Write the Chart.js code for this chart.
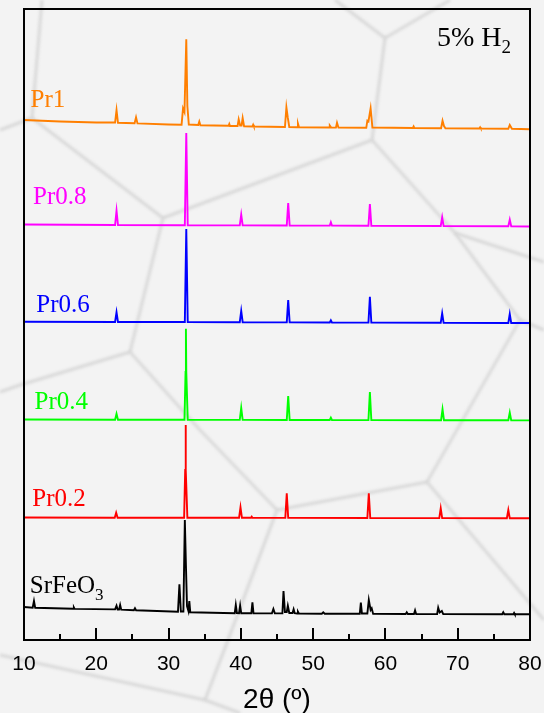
<!DOCTYPE html>
<html>
<head>
<meta charset="utf-8">
<script src="https://cdn.jsdelivr.net/npm/chart.js@4.4.1/dist/chart.umd.min.js"></script>
<style>
  html, body { margin: 0; padding: 0; background: #f3f3f3; }
  #wrap { width: 544px; height: 713px; position: relative; }
</style>
</head>
<body>
<div id="wrap"><canvas id="xrdChart" width="544" height="713"></canvas></div>
<script>
// Series names and colours, top to bottom
const seriesNames = ["Pr1", "Pr0.8", "Pr0.6", "Pr0.4", "Pr0.2", "SrFeO3"];
const seriesColors = ["#ff7f00", "#ff00ff", "#0000ff", "#00ff00", "#ff0000", "#000000"];
// vertical stacking offset of each pattern (a.u.)
const seriesOffsets = [510, 414, 317, 219, 121, 24];

const xTicks = [10, 20, 30, 40, 50, 60, 70, 80];

// Pr1
const pr1Angle = [10, 15, 20, 22.6, 22.8, 23.0, 25.3, 25.5, 25.7, 30, 31.8, 32.0, 32.2, 32.45, 32.6, 32.8,
  34.1, 34.25, 34.4, 38.3, 38.4, 38.5, 39.55, 39.7, 39.9, 40.1, 40.25, 40.45, 41.6, 41.7, 41.8,
  46.1, 46.3, 46.5, 46.7, 47.8, 47.9, 48.05, 52.2, 52.3, 52.5, 53.15, 53.3, 53.5,
  57.35, 57.5, 57.65, 57.95, 58.2, 63.8, 63.9, 64.0, 67.7, 67.9, 68.1, 68.3,
  73.0, 73.1, 73.2, 77.0, 77.2, 77.5, 80];
const pr1Counts = [10, 8.5, 7.5, 7.5, 20, 7.2, 6.8, 12.7, 6.6, 5.5, 5.3, 21.7, 18, 90.7, 24, 5.5,
  5, 8.5, 4.8, 4.2, 6, 4, 4, 10.7, 4.5, 4.5, 12, 3.7, 3.5, 5.2, 3.5,
  3, 22.7, 12, 3, 2.8, 6.5, 2.8, 2.5, 4.5, 2.5, 2.4, 7.3, 2.4,
  2.2, 9.3, 8.5, 21.7, 2.5, 2, 3.5, 2, 1.8, 9.3, 4, 1.7,
  1.5, 2.7, 1.5, 1.2, 5, 1.2, 0.7];

// Pr0.8
const pr08Angle = [10, 22.6, 22.8, 23.0, 32.25, 32.45, 32.65, 39.85, 40.05, 40.25, 46.35, 46.55, 46.75,
  52.3, 52.45, 52.6, 57.65, 57.85, 58.05, 67.65, 67.85, 68.05, 77.0, 77.2, 77.4, 80];
const pr08Counts = [1.5, 1, 15.3, 1, 0.8, 93, 0.8, 0.6, 11.3, 0.6, 0.5, 23, 0.5,
  0.4, 3.7, 0.4, 0.3, 22, 0.3, 0, 8.7, 0, -0.3, 6.3, -0.3, -0.5];

// Pr0.6
const pr06Angle = [10, 22.6, 22.8, 23.0, 32.25, 32.45, 32.65, 39.85, 40.05, 40.25, 46.35, 46.55, 46.75,
  52.3, 52.45, 52.6, 57.65, 57.85, 58.05, 67.65, 67.85, 68.05, 77.0, 77.2, 77.4, 80];
const pr06Counts = [1.2, 1, 10.7, 1, 1, 94, 1, 0.8, 12, 0.8, 0.6, 23, 0.6,
  0.5, 2.7, 0.5, 0.4, 26.3, 0.4, 0.2, 9.7, 0.2, 0, 9, 0, 0];

// Pr0.4
const pr04Angle = [10, 22.6, 22.8, 23.0, 32.2, 32.35, 32.4, 32.45, 32.65, 39.85, 40.05, 40.25, 46.35, 46.55, 46.75,
  52.3, 52.45, 52.6, 57.65, 57.85, 58.05, 67.7, 67.9, 68.1, 77.0, 77.2, 77.4, 80];
const pr04Counts = [1.5, 1.3, 7.3, 1.3, 1.2, 49, 92.3, 49, 1.2, 1.1, 13, 1.1, 1, 25, 1,
  1, 3.3, 1, 0.9, 29, 0.9, 0.8, 11.7, 0.8, 0.7, 8.3, 0.7, 0.6];

// Pr0.2
const pr02Angle = [10, 22.55, 22.75, 22.95, 32.15, 32.3, 32.35, 32.4, 32.6, 39.75, 39.95, 40.15,
  41.4, 41.5, 41.6, 46.15, 46.35, 46.55, 57.5, 57.7, 57.9, 67.45, 67.65, 67.85, 76.8, 77.0, 77.2, 80];
const pr02Counts = [1.5, 1.3, 6.3, 1.3, 1.3, 49, 94, 49, 1.3, 1.2, 11.7, 1.2,
  1.2, 2.3, 1.2, 1.1, 25.7, 1.1, 1, 25.7, 1, 0.9, 10.7, 0.9, 0.8, 9, 0.8, 0.7];

// SrFeO3
const sfoAngle = [10, 11.2, 11.38, 11.55, 16.8, 16.9, 17.0, 22.6, 22.8, 22.95, 23.15, 23.3, 23.45,
  25.2, 25.35, 25.5, 31.3, 31.5, 31.7, 32.05, 32.25, 32.4, 32.55, 32.75, 32.87, 33.0,
  39.15, 39.3, 39.45, 39.75, 39.9, 40.05, 41.45, 41.6, 41.75, 44.3, 44.5, 44.7,
  45.75, 45.9, 46.1, 46.35, 46.5, 46.7, 47.15, 47.3, 47.45, 47.8, 47.9, 48.05,
  51.2, 51.4, 51.6, 56.45, 56.6, 56.75, 57.5, 57.7, 57.95, 58.1, 58.3,
  62.8, 62.95, 63.1, 63.95, 64.1, 64.25, 67.15, 67.3, 67.5, 67.8, 68.0,
  76.15, 76.3, 76.45, 77.7, 77.8, 77.9, 80];
const sfoCounts = [9, 8.3, 15, 8.2, 7.2, 8.5, 7.1, 6.6, 10.3, 6.5, 6.4, 11, 6.3,
  5.8, 7.7, 5.7, 4.3, 31.7, 4.5, 4.5, 96, 51, 10, 5, 15, 3.8,
  2.8, 11, 3, 2.8, 10.3, 2.8, 2.7, 13.7, 2.7, 2.6, 7, 2.6,
  2.6, 25, 4, 4, 10.3, 3, 3, 6.7, 2.8, 2.5, 4.3, 2.4,
  2.3, 3.7, 2.3, 2.2, 13.3, 2.5, 2.5, 16, 6, 7.7, 2.1,
  2, 3.7, 2, 2, 5.7, 2, 1.9, 8.3, 3.5, 5, 1.9,
  1.7, 3.7, 1.7, 1.7, 3, 1.7, 1.7];

const seriesAngles = [pr1Angle, pr08Angle, pr06Angle, pr04Angle, pr02Angle, sfoAngle];
const seriesCounts = [pr1Counts, pr08Counts, pr06Counts, pr04Counts, pr02Counts, sfoCounts];

const serif = "'Liberation Serif', 'Times New Roman', serif";
const sans = "'Liberation Sans', Arial, sans-serif";

// text labels (data coordinates: 2theta, stacked intensity)
const labelSpots = [
  { x: 10.9, dy: 22.7 },
  { x: 11.25, dy: 22 },
  { x: 11.7, dy: 11.3 },
  { x: 11.45, dy: 11.7 },
  { x: 11.15, dy: 13 },
  { x: 10.8, dy: 23.3 },
];

// light grey cell pattern behind the figure
const cellEdges = [
  [[335, 0], [385, 38], [450, 0]],
  [[385, 38], [372, 140], [455, 233], [520, 320], [544, 330]],
  [[455, 233], [544, 262]],
  [[372, 140], [163, 218], [32, 118], [42, 0]],
  [[32, 118], [0, 130]],
  [[163, 218], [130, 352], [20, 385], [0, 392]],
  [[130, 352], [200, 430], [277, 510], [427, 482], [520, 320]],
  [[427, 482], [544, 620]],
  [[277, 510], [228, 640], [205, 700], [0, 655]],
  [[205, 700], [240, 713]],
];

const backgroundPlugin = {
  id: "cellBackground",
  beforeDraw(chart) {
    const ctx = chart.ctx;
    ctx.save();
    ctx.fillStyle = "#f3f3f3";
    ctx.fillRect(0, 0, chart.width, chart.height);
    ctx.filter = "blur(1.5px)";
    ctx.strokeStyle = "#d3d3d3";
    ctx.lineWidth = 2.5;
    ctx.lineJoin = "round";
    cellEdges.forEach((path) => {
      ctx.beginPath();
      path.forEach(([px, py], i) => (i ? ctx.lineTo(px, py) : ctx.moveTo(px, py)));
      ctx.stroke();
    });
    ctx.restore();
  },
};

const framePlugin = {
  id: "frameAndLabels",
  afterDraw(chart) {
    const ctx = chart.ctx;
    const area = chart.chartArea;
    const xScale = chart.scales.x;
    const yScale = chart.scales.y;
    ctx.save();
    ctx.strokeStyle = "#000";
    ctx.lineWidth = 2;
    ctx.strokeRect(area.left, area.top, area.right - area.left, area.bottom - area.top);

    // inward ticks
    for (let v = 15; v < 80; v += 5) {
      const px = Math.round(xScale.getPixelForValue(v));
      const len = v % 10 === 0 ? 12 : 6;
      ctx.beginPath();
      ctx.moveTo(px, area.bottom);
      ctx.lineTo(px, area.bottom - len);
      ctx.stroke();
    }

    // pattern labels
    ctx.textBaseline = "alphabetic";
    ctx.textAlign = "left";
    seriesNames.forEach((name, i) => {
      const px = xScale.getPixelForValue(labelSpots[i].x);
      const py = yScale.getPixelForValue(seriesOffsets[i] + labelSpots[i].dy);
      ctx.fillStyle = seriesColors[i];
      ctx.font = "25px " + serif;
      if (name === "SrFeO3") {
        ctx.fillText("SrFeO", px, py);
        const w = ctx.measureText("SrFeO").width;
        ctx.font = "17px " + serif;
        ctx.fillText("3", px + w, py + 7);
      } else {
        ctx.fillText(name, px, py);
      }
    });

    // atmosphere note
    ctx.fillStyle = "#000";
    ctx.font = "28px " + serif;
    const nx = xScale.getPixelForValue(67.13);
    const ny = yScale.getPixelForValue(594);
    ctx.fillText("5% H", nx, ny);
    const nw = ctx.measureText("5% H").width;
    ctx.font = "19px " + serif;
    ctx.fillText("2", nx + nw, ny + 7);
    ctx.restore();
  },
};

const datasets = seriesNames.map((name, i) => ({
  label: name,
  data: seriesAngles[i].map((a, j) => ({ x: a, y: seriesCounts[i][j] + seriesOffsets[i] })),
  borderColor: seriesColors[i],
  borderWidth: 1.9,
  pointRadius: 0,
  tension: 0,
  fill: false,
}));

new Chart(document.getElementById("xrdChart"), {
  type: "line",
  data: { datasets: datasets },
  options: {
    responsive: false,
    animation: false,
    layout: { padding: { left: 24, right: 14, top: 9, bottom: 0 } },
    plugins: { legend: { display: false }, tooltip: { enabled: false } },
    scales: {
      x: {
        type: "linear",
        min: 10,
        max: 80,
        afterBuildTicks: (scale) => {
          scale.ticks = xTicks.map((v) => ({ value: v }));
        },
        afterFit: (scale) => {
          scale.height = 73;
          scale.paddingLeft = 0;
          scale.paddingRight = 0;
        },
        ticks: {
          color: "#000",
          padding: 12,
          maxRotation: 0,
          font: { family: sans, size: 21 },
        },
        grid: { display: false, drawTicks: false },
        border: { display: false },
        title: {
          display: true,
          text: "2θ (º)",
          color: "#000",
          padding: { top: 0, bottom: 0 },
          font: { family: sans, size: 28, lineHeight: 0.9 },
        },
      },
      y: {
        display: false,
        min: 0,
        max: 631,
      },
    },
  },
  plugins: [backgroundPlugin, framePlugin],
});
</script>
</body>
</html>
